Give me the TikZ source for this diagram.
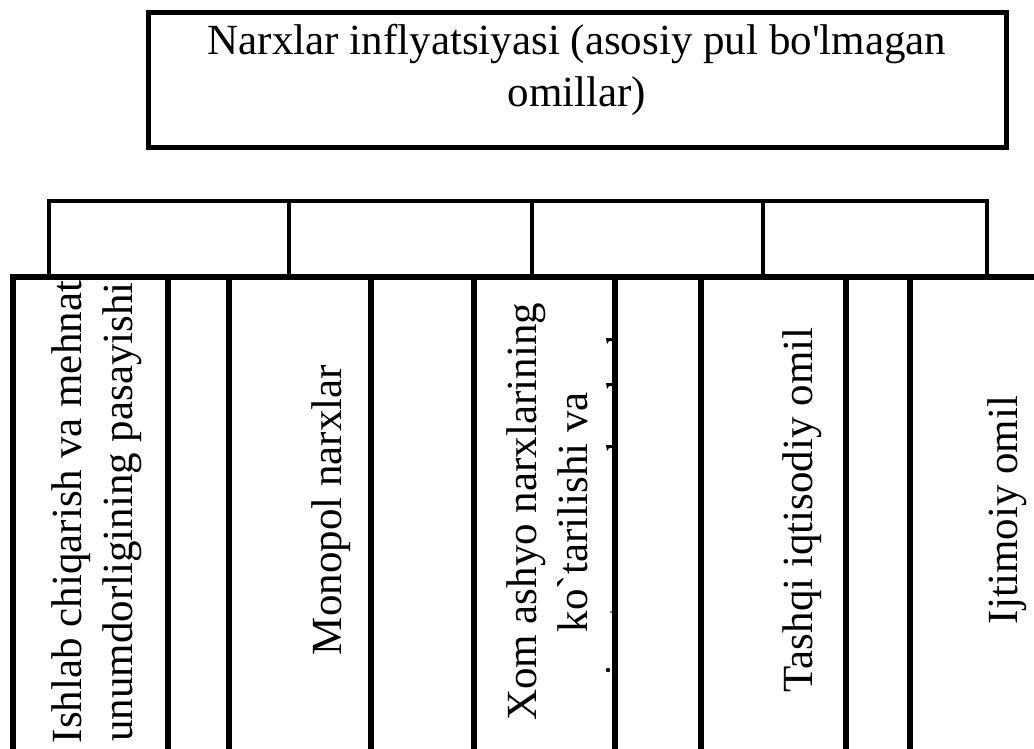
\documentclass[tikz,border=0pt]{standalone}
\usepackage{fontspec}
\setmainfont{Liberation Serif}
\begin{document}
\begin{tikzpicture}[x=1pt,y=-1pt,
  headbox/.style={draw, line width=5pt, inner sep=0pt},
  rowbox/.style={draw, line width=3.8pt, inner sep=0pt, minimum height=76},
  colbox/.style={draw, line width=5.2pt, inner sep=0pt, minimum height=560},
  vlabel/.style={rotate=90, inner sep=0pt, align=center, font=\fontsize{43}{51}\selectfont},
  hlabel/.style={inner sep=0pt, align=center, font=\fontsize{43}{52}\selectfont},
  serif/.style={fill=black}]
\useasboundingbox (0,0) rectangle (1034,749);
\begin{scope}
\clip (0,0) rectangle (1034,749);

% heading box
\node[headbox, minimum width=858, minimum height=135] (head) at (577,80.5) {};
\node[hlabel] (headtext) at (577,70)
  {Narxlar inflyatsiyasi (asosiy pul bo\textquotesingle lmagan\\omillar)};

% row of four empty boxes
\node[rowbox, minimum width=240] (r1) at (169,239) {};
\node[rowbox, minimum width=243] (r2) at (410.5,239) {};
\node[rowbox, minimum width=231] (r3) at (647.5,239) {};
\node[rowbox, minimum width=224] (r4) at (875,239) {};

% tall columns: factor boxes alternating with narrow gaps
\node[colbox, minimum width=155] (c1) at (90.5,557) {};
\node[colbox, minimum width=61]  (g1) at (198.5,557) {};
\node[colbox, minimum width=142] (c2) at (300,557) {};
\node[colbox, minimum width=103] (g2) at (422.5,557) {};
\node[colbox, minimum width=141] (c3) at (544.5,557) {};
\node[colbox, minimum width=86]  (g3) at (658,557) {};
\node[colbox, minimum width=145] (c4) at (773.5,557) {};
\node[colbox, minimum width=64]  (g4) at (878,557) {};
\node[colbox, minimum width=150] (c5) at (985,557) {};

% rotated factor labels
\node[vlabel] (t1) at (97,512)
  {Ishlab chiqarish va mehnat\\unumdorligining pasayishi};
\node[vlabel, anchor=base] (t2) at (341,510) {Monopol narxlar};
\node[vlabel] (t3) at (547,512)
  {Xom ashyo narxlarining\\ko\textasciigrave tarilishi va};
\node[vlabel, anchor=base] (t4) at (812,510) {Tashqi iqtisodiy omil};
\node[vlabel, anchor=base] (t5) at (1017,510) {Ijtimoiy omil};

% letter tips of the hidden third line peeking out of column c3
\foreach \yy in {338,383,445}
  \fill[serif] (606,\yy) -- (613,\yy) -- (613,\yy+3) -- (609,\yy+3) -- (607,\yy+6) -- cycle;
\fill[serif] (608,670) circle (2.2);
\fill[serif] (611,612) circle (0.8);
\end{scope}
\end{tikzpicture}
\end{document}
